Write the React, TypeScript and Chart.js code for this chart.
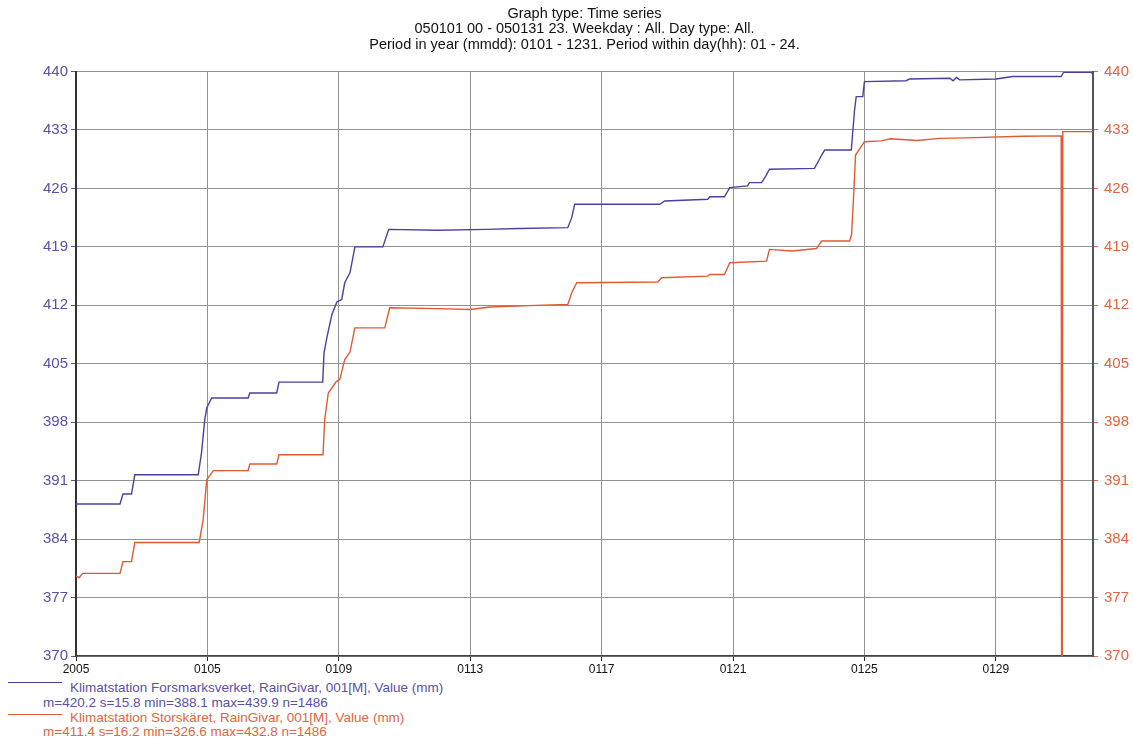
import React, { useEffect, useRef } from "react";
import { Chart, registerables } from "chart.js";

Chart.register(...registerables);

const titleLines = [
  "Graph type: Time series",
  "050101 00 - 050131 23. Weekday : All. Day type: All.",
  "Period in year (mmdd): 0101 - 1231. Period within day(hh): 01 - 24.",
];

// x in days since 2005-01-01 00:00
const xTickLabels: Record<number, string> = {
  0: "2005",
  4: "0105",
  8: "0109",
  12: "0113",
  16: "0117",
  20: "0121",
  24: "0125",
  28: "0129",
};

const forsDays = [
  0, 1.34, 1.43, 1.69, 1.79, 3.72, 3.82, 3.92, 3.98, 4.13, 5.24, 5.29, 6.11, 6.18, 7.51, 7.55, 7.64,
  7.79, 7.94, 8.09, 8.18, 8.34, 8.49, 9.34, 9.52, 11.0, 12.5, 13.5, 14.97, 15.09, 15.18, 17.77, 17.92,
  19.23, 19.29, 19.74, 19.9, 20.44, 20.5, 20.87, 21.0, 21.11, 22.48, 22.7, 22.79, 23.6, 23.7, 23.75,
  23.95, 24.0, 25.27, 25.37, 26.6, 26.7, 26.8, 26.9, 28.01, 28.51, 29.99, 30.06, 30.9, 30.96,
];
const forsValues = [
  388.2, 388.2, 389.4, 389.4, 391.7, 391.7, 394.3, 398.3, 399.7, 400.9, 400.9, 401.5, 401.5, 402.8,
  402.8, 406.3, 408.2, 410.9, 412.4, 412.7, 414.7, 415.9, 419.0, 419.0, 421.1, 421.0, 421.1, 421.2,
  421.3, 422.5, 424.1, 424.1, 424.5, 424.7, 425.0, 425.0, 426.1, 426.3, 426.7, 426.7, 427.5, 428.3,
  428.4, 430.0, 430.6, 430.6, 435.4, 437.0, 437.0, 438.8, 438.9, 439.1, 439.2, 438.9, 439.3, 439.0,
  439.1, 439.4, 439.4, 439.9, 439.9, 439.7,
];

const storDays = [
  0, 0.1, 0.2, 1.34, 1.43, 1.69, 1.79, 3.75, 3.87, 3.98, 4.18, 5.24, 5.29, 6.11, 6.18, 7.52, 7.57,
  7.68, 7.93, 8.03, 8.18, 8.34, 8.49, 9.4, 9.55, 11.0, 12.0, 12.6, 14.0, 14.97, 15.09, 15.24, 17.71,
  17.83, 19.23, 19.29, 19.74, 19.9, 21.02, 21.11, 21.8, 22.54, 22.7, 23.55, 23.61, 23.67, 23.73, 24.0,
  24.5, 24.8, 25.6, 26.3, 27.1, 28.81, 29.99, 30.01, 30.04, 30.96,
];
const storValues = [
  379.6, 379.4, 379.9, 379.9, 381.3, 381.3, 383.6, 383.6, 386.3, 391.1, 392.2, 392.2, 393.0, 393.0,
  394.1, 394.1, 398.3, 401.5, 402.9, 403.1, 405.5, 406.4, 409.3, 409.3, 411.7, 411.6, 411.5, 411.8,
  412.0, 412.1, 413.5, 414.7, 414.8, 415.3, 415.5, 415.7, 415.7, 417.1, 417.3, 418.7, 418.5, 418.8,
  419.7, 419.7, 420.5, 425.0, 430.0, 431.6, 431.7, 431.95, 431.75, 432.0, 432.05, 432.25, 432.3,
  326.6, 432.8, 432.8,
];

const seriesNames = [
  "Klimatstation Forsmarksverket, RainGivar, 001[M], Value (mm)",
  "Klimatstation Storskäret, RainGivar, 001[M], Value (mm)",
];
const seriesStats = [
  "m=420.2 s=15.8 min=388.1 max=439.9 n=1486",
  "m=411.4 s=16.2 min=326.6 max=432.8 n=1486",
];

const BLUE = "#4b409f";
const RED = "#e05a32";
const BLUE_TXT = "#5a50a6";
const RED_TXT = "#e06540";
const FONT = "'Liberation Sans', Arial, sans-serif";

export default function App() {
  const ref = useRef<HTMLCanvasElement | null>(null);

  useEffect(() => {
    if (!ref.current) return;
    const chart = new Chart(ref.current, {
      type: "line",
      data: {
        datasets: [
          {
            label: seriesNames[0],
            data: forsDays.map((d, i) => ({ x: d, y: forsValues[i] })),
            borderColor: BLUE,
            borderWidth: 1.4,
            pointRadius: 0,
            tension: 0,
            yAxisID: "y",
          },
          {
            label: seriesNames[1],
            data: storDays.map((d, i) => ({ x: d, y: storValues[i] })),
            borderColor: RED,
            borderWidth: 1.4,
            pointRadius: 0,
            tension: 0,
            yAxisID: "y2",
          },
        ],
      },
      options: {
        responsive: false,
        animation: false,
        layout: { padding: 0 },
        plugins: {
          legend: { display: false },
          tooltip: { enabled: false },
          title: {
            display: true,
            fullSize: false,
            text: titleLines,
            color: "#111",
            font: { family: FONT, size: 14.5, weight: "normal", lineHeight: 1.07 },
            padding: { top: 6, bottom: 19 },
          },
        },
        scales: {
          x: {
            type: "linear",
            min: 0,
            max: 30.958,
            afterFit: (s: any) => {
              s.height = 24;
            },
            ticks: {
              stepSize: 4,
              includeBounds: false,
              autoSkip: false,
              maxRotation: 0,
              padding: 1,
              color: "#111",
              font: { family: FONT, size: 12 },
              callback: (v: any) => xTickLabels[Number(v)] ?? "",
            },
            grid: { color: "#929292", tickColor: "#222", tickLength: 5, lineWidth: 1 },
            border: { color: "#444", width: 1.5 },
          },
          y: {
            position: "left",
            min: 370,
            max: 440,
            afterFit: (s: any) => {
              s.width = 76;
            },
            ticks: {
              stepSize: 7,
              padding: 3,
              color: BLUE_TXT,
              font: { family: FONT, size: 15 },
            },
            grid: { color: "#929292", tickColor: BLUE_TXT, tickLength: 5, lineWidth: 1 },
            border: { color: "#333", width: 2 },
          },
          y2: {
            position: "right",
            min: 370,
            max: 440,
            afterFit: (s: any) => {
              s.width = 40;
            },
            ticks: {
              stepSize: 7,
              padding: 6,
              color: RED_TXT,
              font: { family: FONT, size: 15 },
            },
            grid: { drawOnChartArea: false, tickColor: RED_TXT, tickLength: 5 },
            border: { color: "#555", width: 2 },
          },
        },
      },
    });
    return () => chart.destroy();
  }, []);

  const legendRow = (top: number, left: number, text: string, color: string) => (
    <div
      style={{
        position: "absolute",
        top,
        left,
        font: `13.5px ${FONT}`,
        lineHeight: "15px",
        color,
        whiteSpace: "nowrap",
      }}
    >
      {text}
    </div>
  );

  return (
    <div style={{ position: "absolute", left: 0, top: 0, width: 1133, height: 743, background: "#fff" }}>
      <canvas ref={ref} width={1133} height={680} style={{ display: "block" }} />
      <div style={{ position: "absolute", left: 8, top: 682, width: 54, height: 1.2, background: BLUE }} />
      {legendRow(680, 70, seriesNames[0], BLUE_TXT)}
      {legendRow(695, 43, seriesStats[0], BLUE_TXT)}
      <div style={{ position: "absolute", left: 8, top: 714, width: 54, height: 1.2, background: RED }} />
      {legendRow(710, 70, seriesNames[1], RED_TXT)}
      {legendRow(724, 43, seriesStats[1], RED_TXT)}
    </div>
  );
}
